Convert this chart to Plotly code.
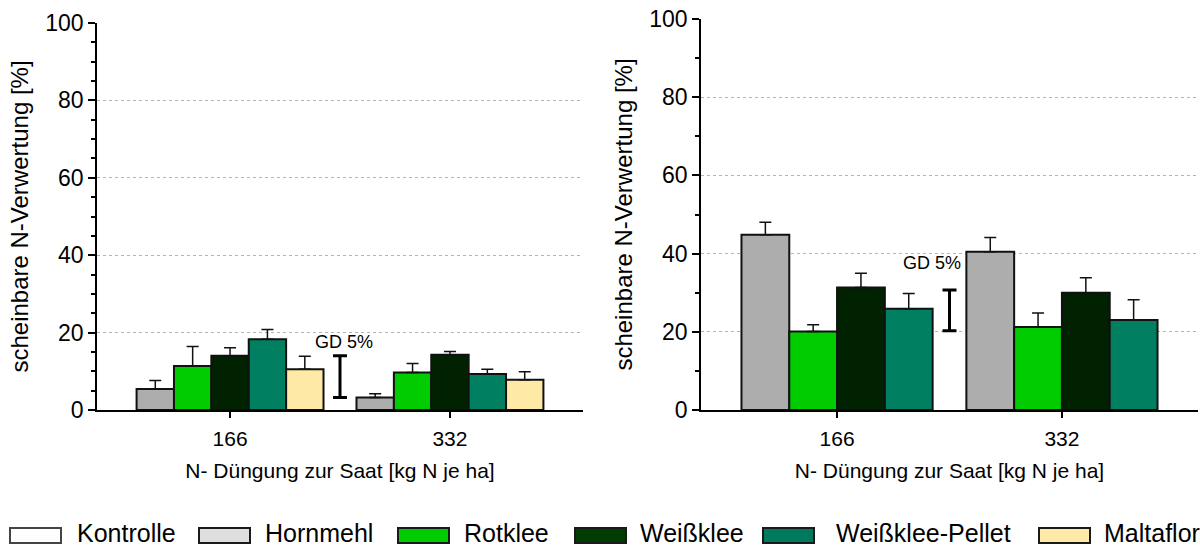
import plotly.graph_objects as go

# N fertilisation at sowing [kg N per ha]
categories = ["166", "332"]

# Left panel: apparent N use efficiency [%] and upper standard error
left_series = ["Hornmehl", "Rotklee", "Weißklee", "Weißklee-Pellet", "Maltaflor"]
left_values = {
    "Hornmehl": [5.4, 3.2],
    "Rotklee": [11.4, 9.7],
    "Weißklee": [14.0, 14.3],
    "Weißklee-Pellet": [18.3, 9.3],
    "Maltaflor": [10.5, 7.8],
}
left_errors = {
    "Hornmehl": [2.2, 1.0],
    "Rotklee": [5.0, 2.3],
    "Weißklee": [2.1, 0.8],
    "Weißklee-Pellet": [2.5, 1.2],
    "Maltaflor": [3.4, 2.1],
}
left_gd_range = [3.2, 14.0]

# Right panel
right_series = ["Hornmehl", "Rotklee", "Weißklee", "Weißklee-Pellet"]
right_values = {
    "Hornmehl": [44.8, 40.5],
    "Rotklee": [20.1, 21.2],
    "Weißklee": [31.3, 30.0],
    "Weißklee-Pellet": [25.9, 23.0],
}
right_errors = {
    "Hornmehl": [3.2, 3.6],
    "Rotklee": [1.7, 3.6],
    "Weißklee": [3.7, 3.8],
    "Weißklee-Pellet": [3.9, 5.2],
}
right_gd_range = [20.3, 30.7]

legend_names = ["Kontrolle", "Hornmehl", "Rotklee", "Weißklee", "Weißklee-Pellet", "Maltaflor"]

bar_colors = {
    "Hornmehl": "#adadad",
    "Rotklee": "#00cc00",
    "Weißklee": "#002200",
    "Weißklee-Pellet": "#008060",
    "Maltaflor": "#ffe9a6",
}
legend_colors = {
    "Kontrolle": "#ffffff",
    "Hornmehl": "#dedede",
    "Rotklee": "#00cc00",
    "Weißklee": "#003d00",
    "Weißklee-Pellet": "#007a5c",
    "Maltaflor": "#ffe9a6",
}

FONT = "Liberation Sans, Arial, sans-serif"
W, H = 1200, 546
xpos = [0, 1]

fig = go.Figure()


def add_panel(series, values, errors, gd_range, xa, ya):
    for name in series:
        fig.add_trace(go.Bar(
            x=xpos, y=values[name], name=name, showlegend=False,
            marker=dict(color=bar_colors[name], line=dict(color="#111111", width=2)),
            error_y=dict(type="data", array=errors[name], arrayminus=[0, 0],
                         symmetric=False, color="#111111", thickness=1.5, width=6),
            xaxis=xa, yaxis=ya,
        ))
    # least significant difference (GD 5%) drawn between the two groups
    lo, hi = gd_range
    fig.add_trace(go.Scatter(
        x=[0.5], y=[(lo + hi) / 2], mode="markers", showlegend=False,
        marker=dict(size=0.1, color="rgba(0,0,0,0)"),
        error_y=dict(type="data", array=[(hi - lo) / 2], color="#000000",
                     thickness=3, width=7),
        xaxis=xa, yaxis=ya,
    ))


add_panel(left_series, left_values, left_errors, left_gd_range, "x", "y")
add_panel(right_series, right_values, right_errors, right_gd_range, "x2", "y2")

xaxis_common = dict(
    range=[-0.605, 1.605], tickvals=xpos, ticktext=categories,
    showline=True, linecolor="#000000", linewidth=1.5,
    ticks="outside", ticklen=6, tickwidth=1.5, tickcolor="#000000",
    ticklabelstandoff=3,
    showgrid=False, zeroline=False,
    tickfont=dict(family=FONT, size=21, color="#000000"),
    title=dict(text="N- Düngung zur Saat [kg N je ha]",
               font=dict(family=FONT, size=21, color="#000000"), standoff=14),
    automargin=False,
)
yaxis_common = dict(
    range=[0, 100], dtick=20, tick0=0,
    showline=True, linecolor="#000000", linewidth=1.5,
    ticks="outside", ticklen=7, tickwidth=1.5, tickcolor="#000000",
    showgrid=True, gridcolor="#b4b4b4", griddash="dot", gridwidth=1,
    zeroline=False,
    tickfont=dict(family=FONT, size=23, color="#000000"),
    title=dict(text="scheinbare N-Verwertung [%]",
               font=dict(family=FONT, size=24, color="#000000"), standoff=10),
    automargin=False,
)

fig.update_layout(
    width=W, height=H,
    margin=dict(l=0, r=0, t=0, b=0),
    paper_bgcolor="#ffffff", plot_bgcolor="#ffffff",
    barmode="group", bargap=0.15, bargroupgap=0,
    font=dict(family=FONT, color="#000000"),
    showlegend=False,
    xaxis=dict(xaxis_common, domain=[97 / W, 583 / W], anchor="y"),
    yaxis=dict(yaxis_common, domain=[1 - 410 / H, 1 - 23 / H], anchor="x",
               minor=dict(dtick=5, ticks="outside", ticklen=4, tickwidth=1.5,
                          tickcolor="#000000", showgrid=False)),
    xaxis2=dict(xaxis_common, domain=[701 / W, 1198 / W], anchor="y2"),
    yaxis2=dict(yaxis_common, domain=[1 - 410 / H, 1 - 19 / H], anchor="x2",
                minor=dict(dtick=10, ticks="outside", ticklen=4, tickwidth=1.5,
                           tickcolor="#000000", showgrid=False)),
)

# GD 5% labels
fig.add_annotation(x=0.52, y=17.6, xref="x", yref="y", text="GD 5%", showarrow=False,
                   font=dict(family=FONT, size=18, color="#000000"))
fig.add_annotation(x=0.42, y=37.7, xref="x2", yref="y2", text="GD 5%", showarrow=False,
                   font=dict(family=FONT, size=18, color="#000000"))

# Legend row along the bottom edge
swatch_x = [10, 199, 398, 575, 763, 1039]
text_x = [75, 263, 462, 638, 834, 1102]
sw_w, sw_top, sw_bot = 51, 528, 543
for name, sx, tx in zip(legend_names, swatch_x, text_x):
    fig.add_shape(type="rect", xref="paper", yref="paper",
                  x0=sx / W, x1=(sx + sw_w) / W, y0=1 - sw_bot / H, y1=1 - sw_top / H,
                  fillcolor=legend_colors[name],
                  line=dict(color="#1a1a1a" if name != "Kontrolle" else "#444444", width=2))
    fig.add_annotation(x=tx / W, y=1 - 533 / H, xref="paper", yref="paper",
                       xanchor="left", yanchor="middle", text=name, showarrow=False,
                       font=dict(family=FONT, size=25, color="#000000"))

fig.write_html("out.html")
